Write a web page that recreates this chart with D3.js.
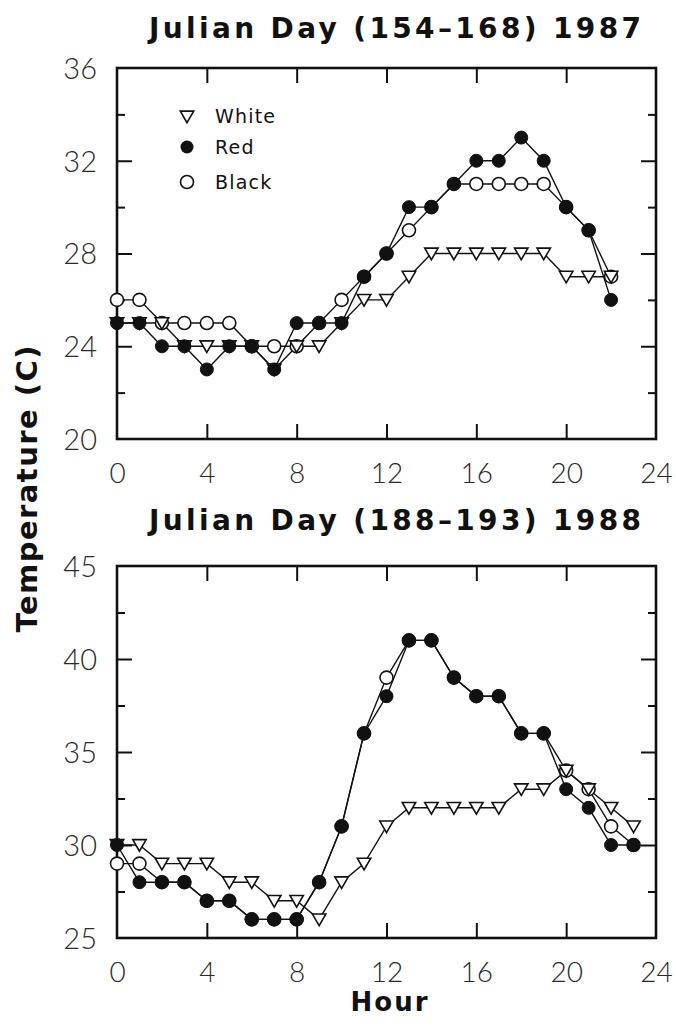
<!DOCTYPE html>
<html>
<head>
<meta charset="utf-8">
<script src="https://cdn.jsdelivr.net/npm/d3@7"></script>
<style>
  body { margin: 0; background: #fff; }
  .tick text { font-family: Lato, "Open Sans", sans-serif; font-weight: 300; fill: #2a2a2a; }
  .title { font-family: "DejaVu Sans", sans-serif; font-weight: bold; fill: #111; }
</style>
</head>
<body>
<div id="chart"></div>
<script>
// hours and temperatures
const hours1987 = d3.range(0, 23);
const white1987 = [25, 25, 25, 24, 24, 24, 24, 23, 24, 24, 25, 26, 26, 27, 28, 28, 28, 28, 28, 28, 27, 27, 27];
const red1987   = [25, 25, 24, 24, 23, 24, 24, 23, 25, 25, 25, 27, 28, 30, 30, 31, 32, 32, 33, 32, 30, 29, 26];
const black1987 = [26, 26, 25, 25, 25, 25, 24, 24, 24, 25, 26, 27, 28, 29, 30, 31, 31, 31, 31, 31, 30, 29, 27];

const hours1988 = d3.range(0, 24);
const white1988 = [30, 30, 29, 29, 29, 28, 28, 27, 27, 26, 28, 29, 31, 32, 32, 32, 32, 32, 33, 33, 34, 33, 32, 31];
const red1988   = [30, 28, 28, 28, 27, 27, 26, 26, 26, 28, 31, 36, 38, 41, 41, 39, 38, 38, 36, 36, 33, 32, 30, 30];
const black1988 = [29, 29, 28, 28, 27, 27, 26, 26, 26, 28, 31, 36, 39, 41, 41, 39, 38, 38, 36, 36, 34, 33, 31, 30];

const xLabels = [0, 4, 8, 12, 16, 20, 24];
const xMajor = [4, 8, 12, 16, 20];
const yLabels1987 = [20, 24, 28, 32, 36];
const yMajor1987 = [24, 28, 32];
const yMinor1987 = [22, 26, 30, 34];
const yLabels1988 = [25, 30, 35, 40, 45];
const yMajor1988 = [30, 35, 40];
const yMinor1988 = [27.5, 32.5, 37.5, 42.5];

const legendNames = ["White", "Red", "Black"];

const W = 676, H = 1027;
const svg = d3.select("#chart").append("svg")
    .attr("width", W).attr("height", H);

const left = 117, right = 656;
const x = d3.scaleLinear().domain([0, 24]).range([left, right]);

const tri = d3.symbol().type(d3.symbolTriangle).size(78);

function drawPanel(cfg) {
    const y = d3.scaleLinear().domain(cfg.yDomain).range([cfg.bottom, cfg.top]);
    const g = svg.append("g");

    // tick labels
    g.append("g").attr("transform", `translate(0,${cfg.bottom})`)
        .call(d3.axisBottom(x).tickValues(xLabels).tickSize(0).tickPadding(24).tickFormat(d3.format("d")))
        .call(a => a.select(".domain").remove())
        .selectAll("text").attr("font-size", 28);
    g.append("g").attr("transform", `translate(${left},0)`)
        .call(d3.axisLeft(y).tickValues(cfg.yLabels).tickSize(0).tickPadding(20).tickFormat(d3.format("d")))
        .call(a => a.select(".domain").remove())
        .selectAll("text").attr("font-size", 29).attr("dy", "0.36em");

    // inward tick marks on all four sides
    const tickAxes = [
        [d3.axisBottom(x).tickValues(xMajor).tickSize(-15), `translate(0,${cfg.bottom})`],
        [d3.axisTop(x).tickValues(xMajor).tickSize(-15), `translate(0,${cfg.top})`],
        [d3.axisLeft(y).tickValues(cfg.yMajor).tickSize(-15), `translate(${left},0)`],
        [d3.axisLeft(y).tickValues(cfg.yMinor).tickSize(-8), `translate(${left},0)`],
        [d3.axisRight(y).tickValues(cfg.yMajor).tickSize(-15), `translate(${right},0)`],
        [d3.axisRight(y).tickValues(cfg.yMinor).tickSize(-8), `translate(${right},0)`]
    ];
    tickAxes.forEach(([ax, tr]) => {
        g.append("g").attr("transform", tr)
            .call(ax.tickFormat(""))
            .call(a => a.select(".domain").remove())
            .selectAll("line").attr("stroke", "#111").attr("stroke-width", 2);
    });

    g.append("rect")
        .attr("x", left).attr("y", cfg.top)
        .attr("width", right - left).attr("height", cfg.bottom - cfg.top)
        .attr("fill", "none").attr("stroke", "#111").attr("stroke-width", 2.6);

    const line = d3.line().x((d, i) => x(cfg.hours[i])).y(d => y(d));
    [cfg.white, cfg.red, cfg.black].forEach(s => {
        g.append("path").datum(s).attr("d", line)
            .attr("fill", "none").attr("stroke", "#111").attr("stroke-width", 1.4);
    });

    // markers: open circles, then triangles, then filled circles on top
    g.selectAll(".blk").data(cfg.black).enter().append("circle")
        .attr("cx", (d, i) => x(cfg.hours[i])).attr("cy", d => y(d)).attr("r", 6.5)
        .attr("fill", "#fff").attr("stroke", "#111").attr("stroke-width", 1.6);
    g.selectAll(".wht").data(cfg.white).enter().append("path")
        .attr("d", tri)
        .attr("transform", (d, i) => `translate(${x(cfg.hours[i])},${y(d) - 1.5}) rotate(180)`)
        .attr("fill", "#fff").attr("stroke", "#111").attr("stroke-width", 1.6);
    g.selectAll(".red").data(cfg.red).enter().append("circle")
        .attr("cx", (d, i) => x(cfg.hours[i])).attr("cy", d => y(d)).attr("r", 6.5)
        .attr("fill", "#111").attr("stroke", "#111").attr("stroke-width", 1);

    svg.append("text").attr("class", "title")
        .attr("x", 395).attr("y", cfg.titleY)
        .attr("text-anchor", "middle").attr("font-size", 28)
        .attr("textLength", 492).attr("lengthAdjust", "spacing")
        .text(cfg.title);
}

drawPanel({
    title: "Julian Day (154\u2013168) 1987", titleY: 38,
    top: 68, bottom: 439, yDomain: [20, 36],
    yLabels: yLabels1987, yMajor: yMajor1987, yMinor: yMinor1987,
    hours: hours1987, white: white1987, red: red1987, black: black1987
});

drawPanel({
    title: "Julian Day (188\u2013193) 1988", titleY: 530,
    top: 566, bottom: 938, yDomain: [25, 45],
    yLabels: yLabels1988, yMajor: yMajor1988, yMinor: yMinor1988,
    hours: hours1988, white: white1988, red: red1988, black: black1988
});

// legend
const leg = svg.append("g").attr("transform", "translate(187,0)");
const legY = [116, 147, 182];
leg.append("path").attr("d", tri)
    .attr("transform", `translate(0,${legY[0] - 1}) rotate(180)`)
    .attr("fill", "#fff").attr("stroke", "#111").attr("stroke-width", 1.6);
leg.append("circle").attr("cy", legY[1]).attr("r", 6.5).attr("fill", "#111");
leg.append("circle").attr("cy", legY[2]).attr("r", 6.5)
    .attr("fill", "#fff").attr("stroke", "#111").attr("stroke-width", 1.6);
leg.selectAll("text").data(legendNames).enter().append("text")
    .attr("x", 28).attr("y", (d, i) => legY[i] + 6.5)
    .attr("font-family", "DejaVu Sans, sans-serif").attr("font-size", 19)
    .attr("letter-spacing", 1.2).attr("fill", "#111")
    .text(d => d);

// axis titles
svg.append("text").attr("class", "title")
    .attr("x", 390).attr("y", 1011).attr("text-anchor", "middle")
    .attr("font-size", 26).attr("letter-spacing", 2)
    .text("Hour");
svg.append("text").attr("class", "title")
    .attr("transform", "translate(37,489) rotate(-90)")
    .attr("text-anchor", "middle").attr("font-size", 29)
    .attr("textLength", 287).attr("lengthAdjust", "spacing")
    .text("Temperature (C)");
</script>
</body>
</html>
